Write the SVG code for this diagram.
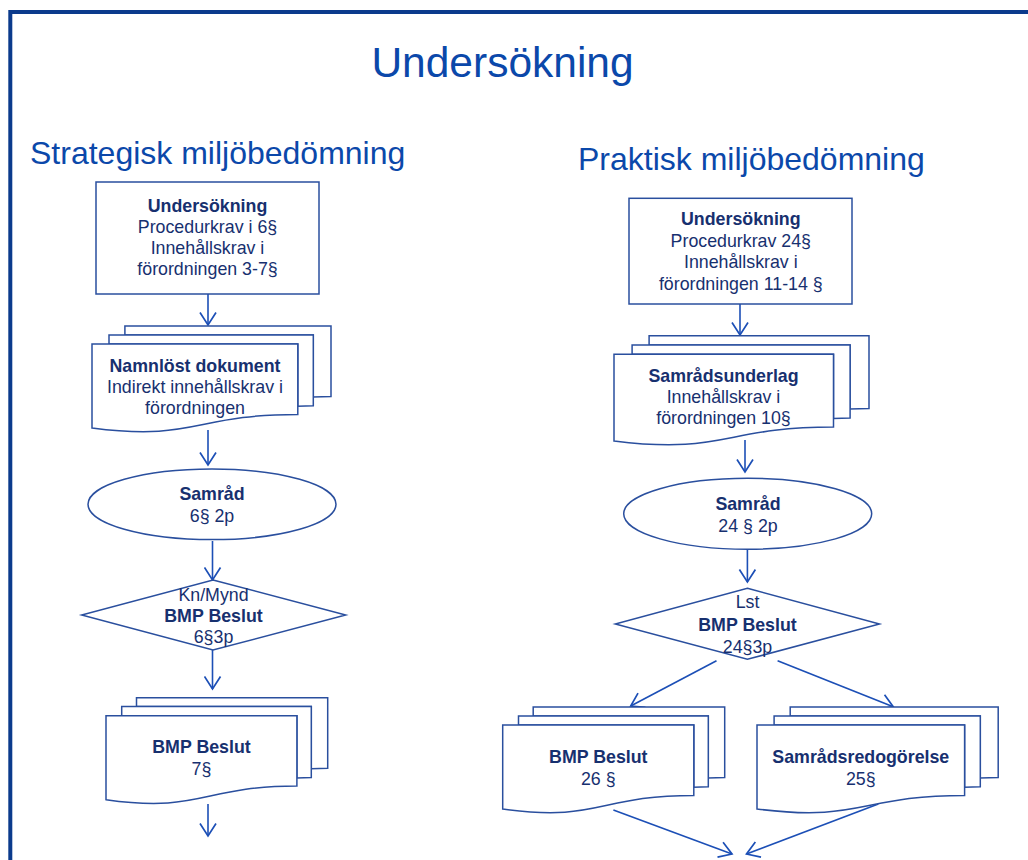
<svg xmlns="http://www.w3.org/2000/svg" width="1028" height="860" viewBox="0 0 1028 860">
<defs>
<style>
.frame{fill:none;stroke:#0b3a8c;stroke-width:4}
.title{font-family:"Liberation Sans",Arial,sans-serif;fill:#0b48aa}
.shape{fill:#fff;stroke:#2a4f9e;stroke-width:1.5}
.t{font-family:"Liberation Sans",Arial,sans-serif;font-size:17.8px;fill:#17306f;text-anchor:middle}
.b{font-weight:bold}
.conn{fill:none;stroke:#1c4fb6;stroke-width:1.6}
</style>
<marker id="arr" markerUnits="userSpaceOnUse" viewBox="-14 -9 16 18" refX="0" refY="0" markerWidth="16" markerHeight="18" orient="auto">
<path d="M-12.5,-8 L0,0 L-12.5,8" fill="none" stroke="#1c4fb6" stroke-width="1.7"/>
</marker>
</defs>
<rect width="1028" height="860" fill="#fff"/>
<path class="frame" d="M10.3,860 V12 H1030"/>
<text class="title" x="502.5" y="77" font-size="42.5" text-anchor="middle">Undersökning</text>
<text class="title" x="30" y="164" font-size="32">Strategisk miljöbedömning</text>
<text class="title" x="578" y="170" font-size="32">Praktisk miljöbedömning</text>

<g id="connectors">
<path class="conn" marker-end="url(#arr)" d="M208,294 V325"/>
<path class="conn" marker-end="url(#arr)" d="M208,430 V465"/>
<path class="conn" marker-end="url(#arr)" d="M212.5,541 V580"/>
<path class="conn" marker-end="url(#arr)" d="M212.5,650 V689"/>
<path class="conn" marker-end="url(#arr)" d="M208,804 V836"/>
<path class="conn" marker-end="url(#arr)" d="M740,304 V335"/>
<path class="conn" marker-end="url(#arr)" d="M745,440 V472"/>
<path class="conn" marker-end="url(#arr)" d="M747.4,550 V582"/>
<path class="conn" marker-end="url(#arr)" d="M716.5,660.7 L630.7,706"/>
<path class="conn" marker-end="url(#arr)" d="M777.6,660.7 L893.2,706.7"/>
<path class="conn" marker-end="url(#arr)" d="M613.4,810 L732,854"/>
<path class="conn" marker-end="url(#arr)" d="M878.3,804 L746.5,854"/>
</g>

<g id="s-undersokning">
<rect class="shape" x="96" y="182" width="223" height="112"/>
<text class="t b" x="207.5" y="211.5">Undersökning</text>
<text class="t" x="207.5" y="233">Procedurkrav i 6§</text>
<text class="t" x="207.5" y="254">Innehållskrav i</text>
<text class="t" x="207.5" y="275">förordningen 3-7§</text>
</g>

<g id="s-namnlost">
<path class="shape" d="M124.9,334.9 L124.9,326 L331,326 L331,396.6 L313.3,397 L313.3,334.9 Z"/>
<path class="shape" d="M109,344 L109,334.9 L313.3,334.9 L313.3,405.8 L297.8,406.3 L297.8,344 Z"/>
<path class="shape" d="M92,428 C194.9,441.5 194.9,414.4 297.8,414.4 L297.8,344 L92,344 Z"/>
<text class="t b" x="195" y="371.5">Namnlöst dokument</text>
<text class="t" x="195" y="392.5">Indirekt innehållskrav i</text>
<text class="t" x="195" y="413.5">förordningen</text>
</g>

<g id="s-samrad">
<ellipse class="shape" cx="212" cy="504.3" rx="124" ry="35.3"/>
<text class="t b" x="212" y="500">Samråd</text>
<text class="t" x="212" y="521.7">6§ 2p</text>
</g>

<g id="s-beslut-diamond">
<path class="shape" d="M213,580 L345.7,615 L213,650 L81.7,615 Z"/>
<text class="t" x="213.5" y="600.7">Kn/Mynd</text>
<text class="t b" x="213.5" y="621.7">BMP Beslut</text>
<text class="t" x="213.5" y="642.7">6§3p</text>
</g>

<g id="s-bmp-beslut-doc">
<path class="shape" d="M136.5,706.6 L136.5,697.7 L327.7,697.7 L327.7,768.3 L311.3,768.7 L311.3,706.6 Z"/>
<path class="shape" d="M121.7,715.7 L121.7,706.6 L311.3,706.6 L311.3,777.5 L296.9,778 L296.9,715.7 Z"/>
<path class="shape" d="M106,799.7 C201.4,813.2 201.4,786.1 296.9,786.1 L296.9,715.7 L106,715.7 Z"/>
<text class="t b" x="201.5" y="753.3">BMP Beslut</text>
<text class="t" x="201.5" y="775">7§</text>
</g>

<g id="p-undersokning">
<rect class="shape" x="629" y="198.3" width="223" height="105.7"/>
<text class="t b" x="740.8" y="225">Undersökning</text>
<text class="t" x="740.8" y="246.7">Procedurkrav 24§</text>
<text class="t" x="740.8" y="268.3">Innehållskrav i</text>
<text class="t" x="740.8" y="290">förordningen 11-14 §</text>
</g>

<g id="p-samradsunderlag">
<path class="shape" d="M649.1,344.9 L649.1,335.7 L869,335.7 L869,408.6 L850.1,409 L850.1,344.9 Z"/>
<path class="shape" d="M632.1,354.3 L632.1,344.9 L850.1,344.9 L850.1,418 L833.5,418.5 L833.5,354.3 Z"/>
<path class="shape" d="M614,441 C723.8,454.9 723.8,427 833.5,427 L833.5,354.3 L614,354.3 Z"/>
<text class="t b" x="723.5" y="381.7">Samrådsunderlag</text>
<text class="t" x="723.5" y="402.7">Innehållskrav i</text>
<text class="t" x="723.5" y="423.5">förordningen 10§</text>
</g>

<g id="p-samrad">
<ellipse class="shape" cx="747.7" cy="513.8" rx="124" ry="35.5"/>
<text class="t b" x="748" y="510">Samråd</text>
<text class="t" x="748" y="531.7">24 § 2p</text>
</g>

<g id="p-beslut-diamond">
<path class="shape" d="M747.4,588.3 L879.5,624 L747.4,659.3 L615.3,624 Z"/>
<text class="t" x="747.5" y="608.3">Lst</text>
<text class="t b" x="747.5" y="631">BMP Beslut</text>
<text class="t" x="747.5" y="653.3">24§3p</text>
</g>

<g id="p-bmp-beslut-doc">
<path class="shape" d="M533.2,715.9 L533.2,707 L724.7,707 L724.7,777.6 L708.3,778 L708.3,715.9 Z"/>
<path class="shape" d="M518.5,725 L518.5,715.9 L708.3,715.9 L708.3,786.8 L693.8,787.2 L693.8,725 Z"/>
<path class="shape" d="M502.7,809 C598.3,822.5 598.3,795.4 693.8,795.4 L693.8,725 L502.7,725 Z"/>
<text class="t b" x="598.3" y="763.3">BMP Beslut</text>
<text class="t" x="598.3" y="785">26 §</text>
</g>

<g id="p-samradsredogorelse">
<path class="shape" d="M790.2,715.9 L790.2,707 L998.2,707 L998.2,777.6 L980.3,778 L980.3,715.9 Z"/>
<path class="shape" d="M774.1,725 L774.1,715.9 L980.3,715.9 L980.3,786.8 L964.6,787.2 L964.6,725 Z"/>
<path class="shape" d="M757,809 C860.8,822.5 860.8,795.4 964.6,795.4 L964.6,725 L757,725 Z"/>
<text class="t b" x="860.8" y="763.3">Samrådsredogörelse</text>
<text class="t" x="860.8" y="785">25§</text>
</g>
</svg>
